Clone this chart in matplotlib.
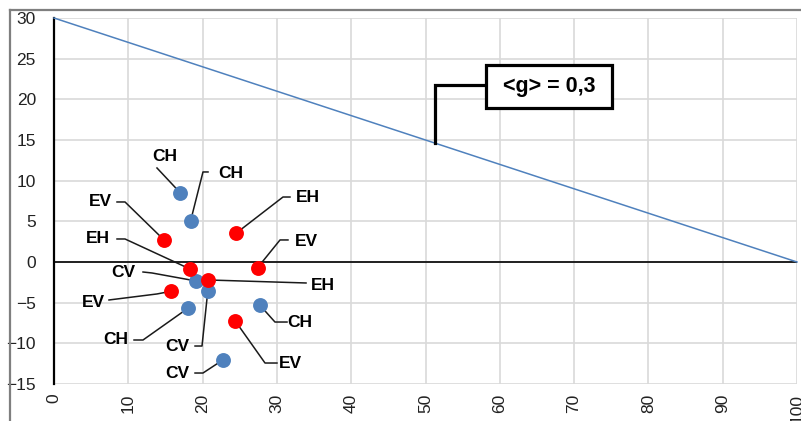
import matplotlib
matplotlib.use("Agg")
import matplotlib.pyplot as plt
from matplotlib.lines import Line2D
from matplotlib.patches import Rectangle
import numpy as np

plt.rcParams['font.family'] = ['Liberation Sans', 'DejaVu Sans']

# ligne <g> = 0,3 : de (0, 30) à (100, 0)
ligne_x = [0, 100]
ligne_y = [30, 0]
g_moyen = "<g> = 0,3"
g_point_x = 51.3

# points mesurés par groupe
ch_x = [17.0, 18.4, 18.0, 27.7]
ch_y = [8.5, 5.1, -5.7, -5.3]
cv_x = [19.15, 20.7, 22.8]
cv_y = [-2.34, -3.57, -12.0]
ev_x = [14.85, 27.4, 15.75, 24.4]
ev_y = [2.67, -0.7, -3.6, -7.26]
eh_x = [24.5, 18.3, 20.77]
eh_y = [3.53, -0.86, -2.21]

x_ticks = list(range(0, 101, 10))
y_ticks = list(range(-15, 31, 5))

# position des étiquettes : texte (tx, ty), début du trait (sx, sy), coude (cx, cy)
ch_lab = [(14.94, 12.91, 13.86, 11.56, 13.86, 11.56),
          (23.82, 10.94, 20.73, 11.07, 20.05, 11.07),
          (8.34, -9.59, 10.77, -9.59, 11.98, -9.59),
          (33.11, -7.38, 31.36, -7.38, 29.74, -7.38)]
cv_lab = [(9.29, -1.35, 11.98, -1.23, 13.19, -1.35),
          (16.55, -10.33, 18.98, -10.33, 19.92, -10.33),
          (16.55, -13.77, 18.98, -13.65, 20.05, -13.65)]
ev_lab = [(6.19, 7.38, 8.48, 7.38, 9.56, 7.38),
          (33.92, 2.58, 31.49, 2.71, 30.42, 2.71),
          (5.25, -4.92, 7.40, -4.67, 13.86, -3.93),
          (31.76, -12.42, 30.01, -12.42, 28.40, -12.42)]
eh_lab = [(34.19, 7.99, 31.76, 7.99, 30.82, 7.99),
          (5.92, 2.83, 8.48, 2.83, 9.56, 2.83),
          (36.20, -2.83, 33.92, -2.58, 33.92, -2.58)]

bleu = '#4f81bd'
rouge = '#ff0000'

fig = plt.figure(figsize=(8.01, 4.21), dpi=100)
ax = fig.add_axes([54 / 801, 1 - 384 / 421, (797 - 54) / 801, (384 - 18) / 421])

ax.set_xlim(0, 100)
ax.set_ylim(-15, 30)
ax.set_xticks(x_ticks)
ax.set_yticks(y_ticks)
ax.grid(True, color='#d9d9d9', linewidth=1.2)
ax.set_axisbelow(True)
for s in ['top', 'right', 'bottom']:
    ax.spines[s].set_visible(False)
ax.spines['left'].set_linewidth(1.6)
ax.spines['left'].set_color('black')
ax.tick_params(axis='both', length=0, labelsize=12.5, colors='#222222')
ax.tick_params(axis='y', pad=13)
ax.tick_params(axis='x', pad=7, labelrotation=90)
for lab in ax.get_xticklabels():
    lab.set_verticalalignment('top')

# axe horizontal à y = 0
ax.axhline(0, color='black', linewidth=1.2, zorder=2)

ax.plot(ligne_x, ligne_y, color=bleu, linewidth=1.1, zorder=3, clip_on=False)

# étiquette <g> : trait coudé puis cadre
g_point_y = np.interp(g_point_x, ligne_x, ligne_y)
ax.plot([g_point_x, g_point_x, 58.1], [g_point_y, 21.76, 21.76],
        color='black', linewidth=2.3, solid_joinstyle='miter', zorder=4)
ax.add_patch(Rectangle((58.1, 18.94), 17.0, 5.28, facecolor='white',
                       edgecolor='black', linewidth=2.3, zorder=5))
ax.text(66.6, 21.55, g_moyen, ha='center', va='center', fontsize=15.5,
        fontweight='bold', zorder=6)

groupes = [('CH', ch_x, ch_y, ch_lab, bleu),
           ('CV', cv_x, cv_y, cv_lab, bleu),
           ('EV', ev_x, ev_y, ev_lab, rouge),
           ('EH', eh_x, eh_y, eh_lab, rouge)]

for nom, xs, ys, labs, coul in groupes:
    ax.scatter(xs, ys, s=115, color=coul, zorder=6, linewidths=0)
    for x, y, (tx, ty, sx, sy, cx, cy) in zip(xs, ys, labs):
        ax.plot([sx, cx, x], [sy, cy, y], color='#1a1a1a', linewidth=1.1, zorder=5)
        ax.text(tx, ty, nom, ha='center', va='center', fontsize=12.5,
                fontweight='bold', color='black', zorder=7)

# cadre de la zone de graphique
fig.add_artist(Line2D([10 / 801, 10 / 801], [0, 1 - 10 / 421], color='#7f7f7f', linewidth=1.6))
fig.add_artist(Line2D([10 / 801, 1], [1 - 10 / 421, 1 - 10 / 421], color='#7f7f7f', linewidth=1.6))

fig.savefig('out.png', dpi=100)
